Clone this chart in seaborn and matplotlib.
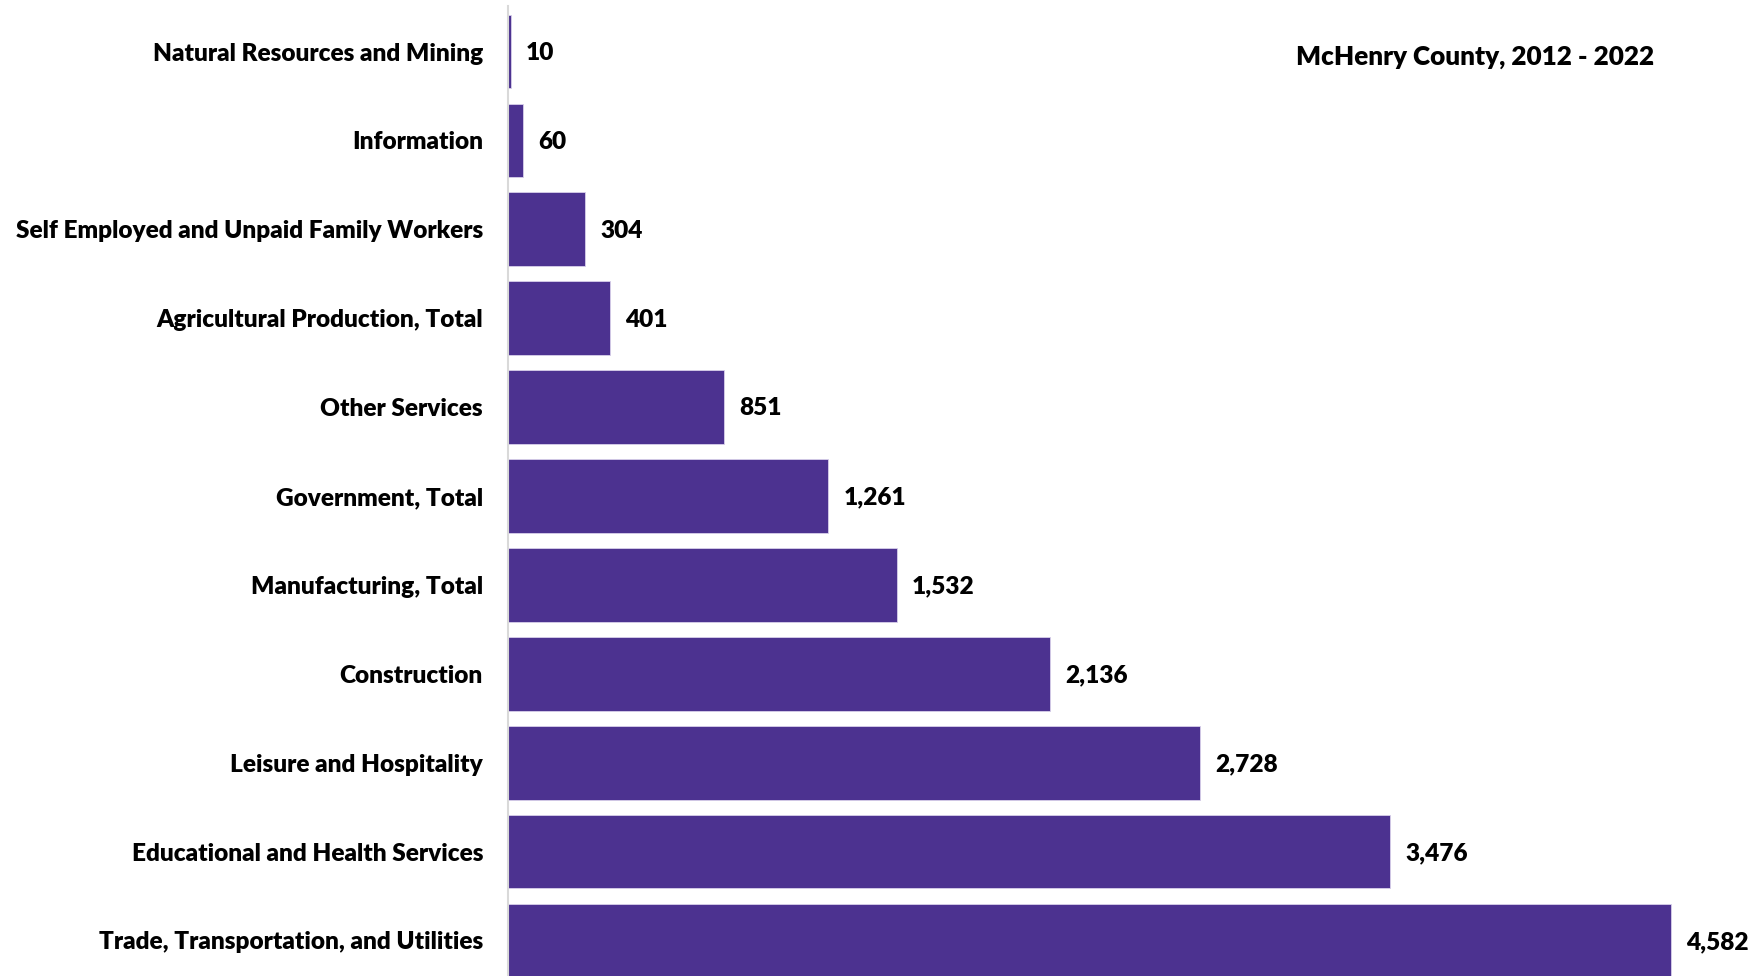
import numpy as np
import pandas as pd
import seaborn as sns
import matplotlib.pyplot as plt

# Job openings by industry, top to bottom as in the reference
industries = [
    'Natural Resources and Mining',
    'Information',
    'Self Employed and Unpaid Family Workers',
    'Agricultural Production, Total',
    'Other Services',
    'Government, Total',
    'Manufacturing, Total',
    'Construction',
    'Leisure and Hospitality',
    'Educational and Health Services',
    'Trade, Transportation, and Utilities',
]
values = [10, 60, 304, 401, 851, 1261, 1532, 2136, 2728, 3476, 4582]
title_text = 'McHenry County, 2012 - 2022'

bar_color = '#4C3290'

data = pd.DataFrame({'industry': industries, 'value': values})

sns.set_theme(style='white')
plt.rcParams['font.family'] = ['Lato', 'DejaVu Sans']
plt.rcParams['font.weight'] = 'bold'

fig = plt.figure(figsize=(17.54, 9.76), dpi=100)
ax = fig.add_axes([508 / 1754, 0, 1 - 508 / 1754, 1 - 6 / 976])

sns.barplot(data=data, x='value', y='industry', orient='h', color=bar_color,
            saturation=1, width=0.83, edgecolor='#D8D0EA', linewidth=0.6, ax=ax)

ax.set_xlim(0, 4909)
ax.set_ylim(10.40, -0.512)

for i, v in enumerate(values):
    ax.annotate(f'{v:,}', xy=(v, i), xytext=(11, -1), textcoords='offset points',
                ha='left', va='center', fontsize=17.6, fontweight='heavy', color='black')

ax.set_xlabel('')
ax.set_ylabel('')
ax.set_xticks([])
ax.tick_params(axis='y', length=0, pad=18, labelsize=17.6)
for lab in ax.get_yticklabels():
    lab.set_fontweight('heavy')
    lab.set_color('black')

for s in ['top', 'right', 'bottom']:
    ax.spines[s].set_visible(False)
ax.spines['left'].set_color('#D9D9D9')
ax.spines['left'].set_linewidth(1.5)

fig.text(1654 / 1754, 1 - 57 / 976, title_text, ha='right', va='center',
         fontsize=18.8, fontweight='heavy', color='black')

fig.savefig('out.png', dpi=100)
